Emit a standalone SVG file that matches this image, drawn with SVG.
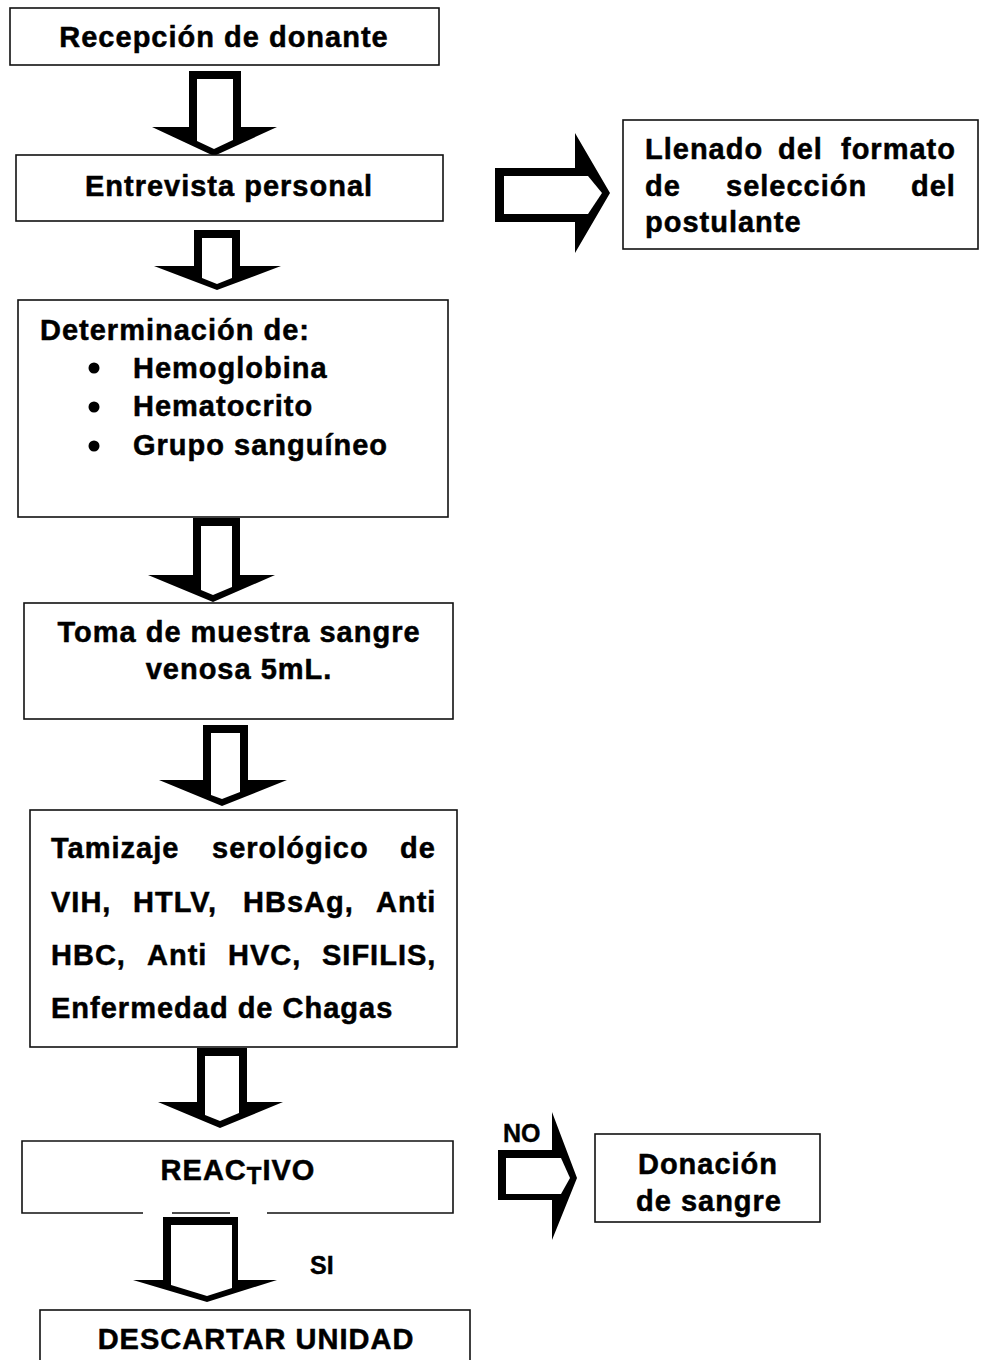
<svg xmlns="http://www.w3.org/2000/svg" width="981" height="1360" viewBox="0 0 981 1360">
<style>
.box{fill:#fff;stroke:#111;stroke-width:1.6}
.t{font-family:"Liberation Sans",Arial,sans-serif;font-weight:bold;font-size:29px;letter-spacing:1px;fill:#000;stroke:#000;stroke-width:0.5}
.c{text-anchor:middle}
.lbl{font-family:"Liberation Sans",Arial,sans-serif;font-weight:bold;font-size:25px;fill:#000;stroke:#000;stroke-width:0.4}
.ao{fill:#000}
.ai{fill:#fff}
</style>
<rect width="981" height="1360" fill="#fff"/>
<g id="connectors">
  <g id="a1"><polygon class="ao" points="189,71 241,71 241,127 277,127 214,156 152,127 189,127"/><polygon class="ai" points="197,79 233,79 233,140 214,149 197,141"/></g>
  <g id="a2"><polygon class="ao" points="194,230 240,230 240,266 281,266 217,290 154,266 194,266"/><polygon class="ai" points="202,238 232,238 232,278 217,284 202,278"/></g>
  <g id="a3"><polygon class="ao" points="193,518 240,518 240,575 275,575 213,602 148,575 193,575"/><polygon class="ai" points="201,526 232,526 232,587 213,595 201,590"/></g>
  <g id="a4"><polygon class="ao" points="203,725 248,725 248,780 287,780 222,806 159,780 203,780"/><polygon class="ai" points="211,733 240,733 240,792 222,799 211,795"/></g>
  <g id="a5"><polygon class="ao" points="197,1048 247,1048 247,1102 283,1102 220,1128 158,1102 197,1102"/><polygon class="ai" points="205,1056 239,1056 239,1113 220,1121 205,1115"/></g>
  <g id="a6"><polygon class="ao" points="163,1217 238,1217 238,1280 277,1280 207,1302 133,1280 163,1280"/><polygon class="ai" points="171,1225 232,1225 232,1288 207,1296 171,1285"/></g>
  <g id="r1"><polygon class="ao" points="495,168 575,168 575,133 610,193 575,253 575,222 495,222"/><polygon class="ai" points="504,176 588,176 602,193 588,214 504,214"/></g>
  <g id="r2"><polygon class="ao" points="498,1150 552,1150 552,1112 577,1178 552,1240 552,1200 498,1200"/><polygon class="ai" points="506,1158 561,1158 570,1178 561,1194 506,1194"/></g>
  <text class="lbl" x="503" y="1142">NO</text>
  <text class="lbl" x="310" y="1274">SI</text>
</g>
<g id="n1"><rect class="box" x="10" y="8" width="429" height="57"/><text class="t c" x="224" y="47">Recepción de donante</text></g>
<g id="n2"><rect class="box" x="16" y="155" width="427" height="66"/><text class="t c" x="229" y="196">Entrevista personal</text></g>
<g id="n3"><rect class="box" x="18" y="300" width="430" height="217"/>
  <text class="t" x="40" y="340">Determinación de:</text>
  <circle cx="94" cy="368" r="5.5"/><text class="t" x="133" y="378">Hemoglobina</text>
  <circle cx="94" cy="407" r="5.5"/><text class="t" x="133" y="416">Hematocrito</text>
  <circle cx="94" cy="446" r="5.5"/><text class="t" x="133" y="455">Grupo sanguíneo</text>
</g>
<g id="n4"><rect class="box" x="24" y="603" width="429" height="116"/>
  <text class="t c" x="239" y="642">Toma de muestra sangre</text>
  <text class="t c" x="239" y="679">venosa 5mL.</text>
</g>
<g id="n5"><rect class="box" x="30" y="810" width="427" height="237"/>
  <text class="t" y="858"><tspan x="51">Tamizaje</tspan><tspan x="212">serológico</tspan><tspan x="400">de</tspan></text>
  <text class="t" y="912"><tspan x="51">VIH,</tspan><tspan x="133">HTLV,</tspan><tspan x="243">HBsAg,</tspan><tspan x="376">Anti</tspan></text>
  <text class="t" y="965"><tspan x="51">HBC,</tspan><tspan x="147">Anti</tspan><tspan x="228">HVC,</tspan><tspan x="322">SIFILIS,</tspan></text>
  <text class="t" x="51" y="1018">Enfermedad de Chagas</text>
</g>
<g id="n6"><path class="box" fill="none" d="M143,1213 H22 V1141 H453 V1213 H267 M172,1213 H230"/>
  <text class="t c" x="238" y="1180">REAC<tspan font-size="24" dy="4">T</tspan><tspan dy="-4">IVO</tspan></text>
</g>
<g id="n7"><rect class="box" x="40" y="1310" width="430" height="60"/><text class="t c" x="256" y="1349">DESCARTAR UNIDAD</text></g>
<g id="n8"><rect class="box" x="623" y="120" width="355" height="129"/>
  <text class="t" y="159"><tspan x="645">Llenado</tspan><tspan x="778">del</tspan><tspan x="841">formato</tspan></text>
  <text class="t" y="196"><tspan x="645">de</tspan><tspan x="726">selección</tspan><tspan x="911">del</tspan></text>
  <text class="t" x="645" y="232">postulante</text>
</g>
<g id="n9"><rect class="box" x="595" y="1134" width="225" height="88"/>
  <text class="t c" x="708" y="1174">Donación</text>
  <text class="t c" x="709" y="1211">de sangre</text>
</g>
</svg>
